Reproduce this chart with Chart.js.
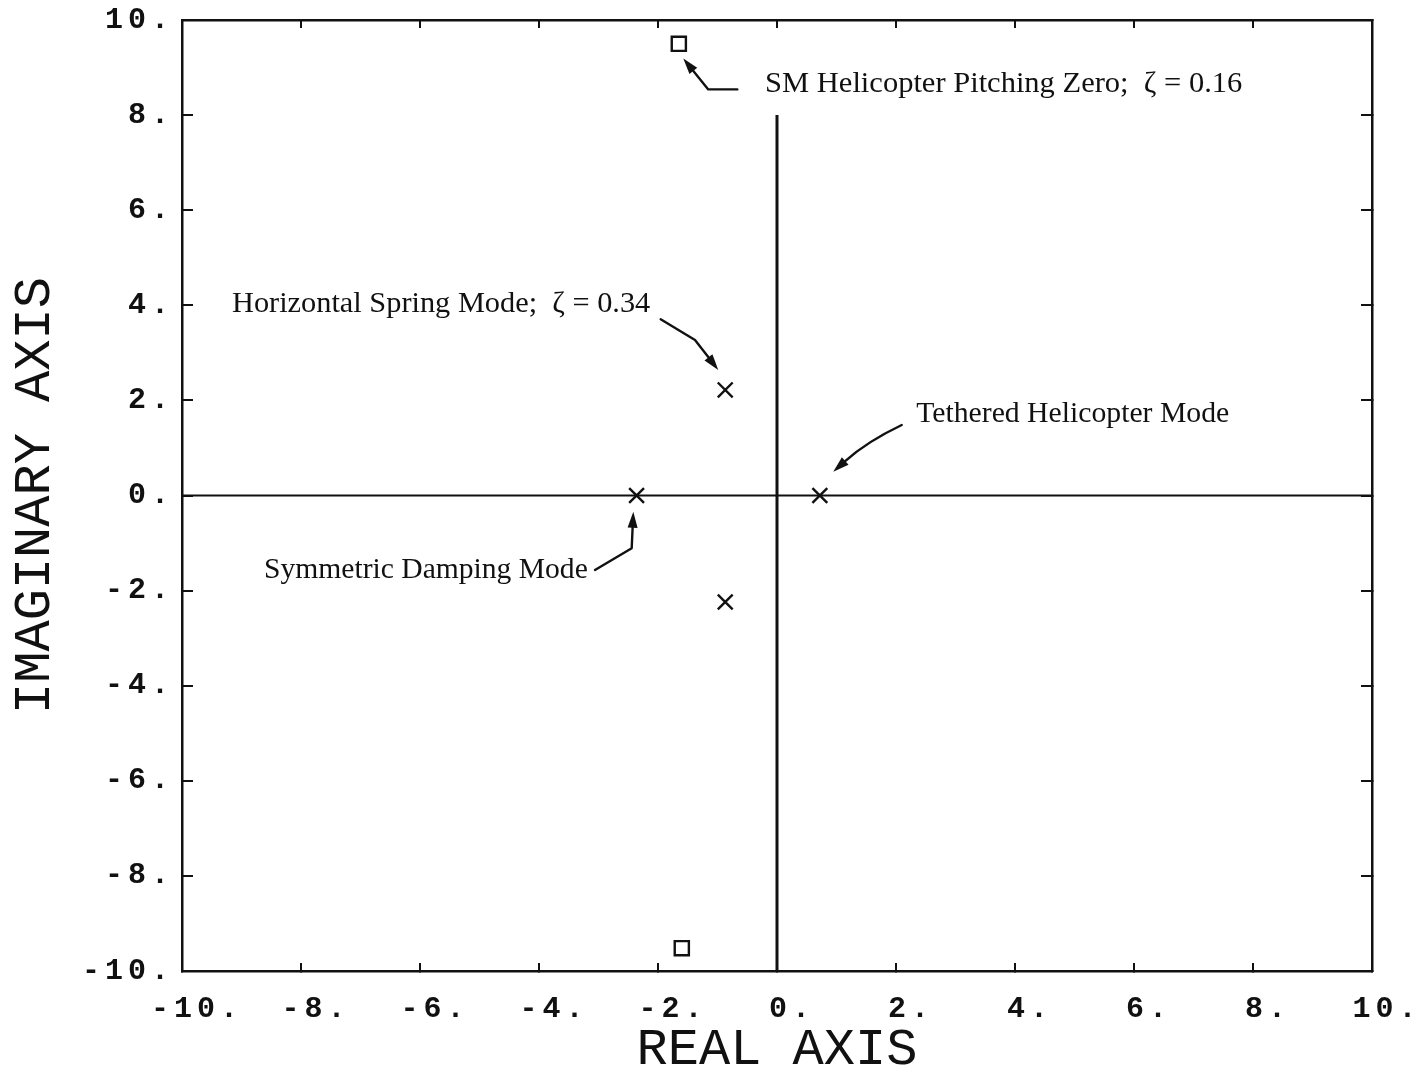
<!DOCTYPE html>
<html><head><meta charset="utf-8">
<script src="https://cdn.jsdelivr.net/npm/chart.js@4.4.1/dist/chart.umd.min.js"></script>
<style>html,body{margin:0;padding:0;background:#fff;}#wrap{width:1426px;height:1072px;}</style>
</head><body><div id="wrap"><canvas id="c" width="1426" height="1072"></canvas></div>
<script>
// ---- data ----
const tickValues = [-10, -8, -6, -4, -2, 0, 2, 4, 6, 8, 10];
const zerosRe = [-1.65, -1.60];
const zerosIm = [9.50, -9.52];
const polesRe = [-0.87, -0.87, -2.36, 0.72];
const polesIm = [2.22, -2.24, 0, 0];
const realLineX = [-10, 10];
const realLineY = [0, 0];
const imagLineX = [0, 0];
const imagLineY = [8, -10];
const annTexts = ['SM Helicopter Pitching Zero;  \u03B6 = 0.16', 'Horizontal Spring Mode;  \u03B6 = 0.34', 'Tethered Helicopter Mode', 'Symmetric Damping Mode'];
// ---- annotation placement (data units) ----
const annLeftX = [-0.20, -9.16, 2.34, -8.62];
const annRightX = [7.82, -2.13, 7.60, -3.18];
const annMidY = [8.65, 4.03, 1.71, -1.57];
const arrowPaths = [
  [[-0.667, 8.54], [-1.155, 8.54], [-1.575, 9.19]],
  [[-1.955, 3.706], [-1.378, 3.27], [-0.987, 2.64]],
  [[2.096, 1.483], [1.508, 1.131], [0.946, 0.50]],
  [[-3.059, -1.567], [-2.442, -1.110], [-2.415, -0.341]]
];
const arrowCurved = [false, false, true, false];

const toPts = (xs, ys) => xs.map((x, i) => ({x: x, y: ys[i]}));
const fmt = v => v + '.';
const INK = '#111';

const spacingPlugin = {
  id: 'spacing',
  beforeDraw(chart) {
    Object.values(chart.scales).forEach(s => {
      if (s._patched) return;
      const orig = s.drawLabels;
      s.drawLabels = function (area) {
        const ctx = this.ctx;
        ctx.save();
        ctx.letterSpacing = '5px';
        orig.call(this, area);
        ctx.restore();
      };
      s._patched = true;
    });
  }
};

const annPlugin = {
  id: 'ann',
  afterDatasetsDraw(chart) {
    const ctx = chart.ctx, xs = chart.scales.x, ys = chart.scales.y;
    ctx.save();
    ctx.fillStyle = INK; ctx.strokeStyle = INK;
    ctx.font = '30px "Liberation Serif"';
    ctx.textBaseline = 'middle'; ctx.textAlign = 'left';
    annTexts.forEach((t, i) => {
      const x0 = xs.getPixelForValue(annLeftX[i]);
      const x1 = xs.getPixelForValue(annRightX[i]);
      const y = ys.getPixelForValue(annMidY[i]);
      const w = ctx.measureText(t).width;
      ctx.save();
      ctx.translate(x0, y);
      ctx.scale((x1 - x0) / w, 1);
      ctx.fillText(t, 0, 0);
      ctx.restore();
    });
    ctx.lineWidth = 2.4; ctx.lineCap = 'round'; ctx.lineJoin = 'round';
    arrowPaths.forEach((path, i) => {
      const p = path.map(q => [xs.getPixelForValue(q[0]), ys.getPixelForValue(q[1])]);
      const tip = p[p.length - 1], prev = p[p.length - 2];
      const ang = Math.atan2(tip[1] - prev[1], tip[0] - prev[0]);
      const L = 16, H = 5;
      const bx = tip[0] - L * Math.cos(ang), by = tip[1] - L * Math.sin(ang);
      ctx.beginPath();
      ctx.moveTo(p[0][0], p[0][1]);
      if (arrowCurved[i]) {
        ctx.quadraticCurveTo(p[1][0], p[1][1], bx, by);
      } else {
        for (let k = 1; k < p.length - 1; k++) ctx.lineTo(p[k][0], p[k][1]);
        ctx.lineTo(bx, by);
      }
      ctx.stroke();
      ctx.beginPath();
      ctx.moveTo(tip[0], tip[1]);
      ctx.lineTo(bx + H * Math.sin(ang), by - H * Math.cos(ang));
      ctx.lineTo(bx - H * Math.sin(ang), by + H * Math.cos(ang));
      ctx.closePath();
      ctx.fill();
    });
    ctx.restore();
  }
};

const tickFont = {family: '"Liberation Mono"', size: 30, weight: 'bold'};
const titleFont = {family: '"Liberation Mono"', size: 52, weight: 'normal', lineHeight: 0.85};
const setTicks = s => { s.ticks = tickValues.map(v => ({value: v})); };

function axis(pos, extra) {
  const horiz = pos === 'bottom' || pos === 'top';
  return Object.assign({
    type: 'linear', position: pos, min: -10, max: 10,
    afterBuildTicks: setTicks,
    grid: {drawOnChartArea: false, drawTicks: true, tickLength: horiz ? -8 : -11, color: INK, lineWidth: 2},
    border: {display: true, color: INK, width: 2.5},
    ticks: {display: false, autoSkip: false, maxRotation: 0, minRotation: 0}
  }, extra);
}
function fixSize(prop, val) {
  return s => {
    s[prop] = val;
    s.paddingTop = 0; s.paddingBottom = 0; s.paddingLeft = 0; s.paddingRight = 0;
  };
}

new Chart(document.getElementById('c'), {
  type: 'scatter',
  data: {
    datasets: [
      {data: toPts(realLineX, realLineY), showLine: true, pointRadius: 0, borderColor: INK, borderWidth: 2, xAxisID: 'x', yAxisID: 'y'},
      {data: toPts(imagLineX, imagLineY), showLine: true, pointRadius: 0, borderColor: INK, borderWidth: 3, xAxisID: 'x', yAxisID: 'y'},
      {data: toPts(zerosRe, zerosIm), pointStyle: 'rect', pointRadius: 10, borderWidth: 2.4, borderColor: INK, backgroundColor: '#fff', xAxisID: 'x', yAxisID: 'y'},
      {data: toPts(polesRe, polesIm), pointStyle: 'crossRot', pointRadius: 10.5, borderWidth: 2.4, borderColor: INK, xAxisID: 'x', yAxisID: 'y'}
    ]
  },
  options: {
    responsive: false, devicePixelRatio: 1, animation: false,
    layout: {padding: 0},
    plugins: {legend: {display: false}, tooltip: {enabled: false}},
    scales: {
      x: axis('bottom', {
        afterFit: fixSize('height', 101),
        ticks: {display: true, autoSkip: false, maxRotation: 0, minRotation: 0, font: tickFont, color: INK, padding: 28, labelOffset: 15, callback: fmt},
        title: {display: true, text: 'REAL AXIS', font: titleFont, color: INK, padding: 0}
      }),
      x2: axis('top', {afterFit: fixSize('height', 20)}),
      y: axis('left', {
        afterFit: fixSize('width', 182),
        ticks: {display: true, autoSkip: false, font: tickFont, color: INK, padding: 19, callback: fmt},
        title: {display: true, text: 'IMAGINARY AXIS', font: titleFont, color: INK, padding: {top: 13, bottom: 0}}
      }),
      y2: axis('right', {afterFit: fixSize('width', 54)})
    }
  },
  plugins: [spacingPlugin, annPlugin]
});
</script></body></html>
